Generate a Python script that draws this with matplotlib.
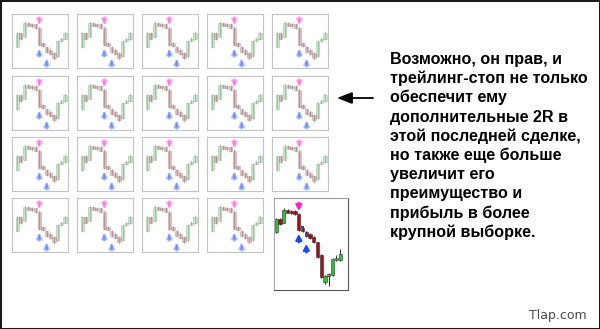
import matplotlib
matplotlib.use("Agg")
import matplotlib.pyplot as plt
from matplotlib.patches import Rectangle

W, H = 600, 329

# last trade (highlighted tile), 18 candles
big_open  = [68, 81, 77, 90, 89, 89, 86, 72, 68, 66, 63, 58, 45, 18, 24, 25, 40, 40]
big_high  = [82, 82, 92, 91, 90, 90, 87, 73, 69, 67, 64, 58, 46, 25, 27, 42, 45, 51]
big_low   = [67, 75, 77, 87, 86, 85, 69, 68, 63, 61, 57, 42, 22, 16, 14, 24, 39, 39]
big_close = [81, 76, 90, 87, 87, 86, 70, 69, 64, 62, 58, 43, 23, 24, 26, 41, 42, 46]
big_sell = [(6, 89)]                 # magenta arrow (index, price)
big_buy = [(6, 66), (8, 56)]         # blue arrows
big_mark = [(7, 73), (8, 65)]        # small blue marks

# faded sample trades, 14 candles
fd_open  = [68, 81, 77, 90, 89, 89, 86, 72, 68, 66, 63, 60, 74, 76]
fd_high  = [82, 82, 92, 91, 90, 90, 87, 73, 69, 67, 64, 75, 77, 83]
fd_low   = [67, 75, 77, 87, 86, 85, 69, 68, 63, 61, 57, 59, 73, 75]
fd_close = [81, 76, 90, 87, 87, 86, 70, 69, 64, 62, 58, 74, 76, 81]
fd_sell = [(6, 88)]
fd_buy = [(6, 67), (8, 58)]

text_lines = [
    "Возможно, он прав, и",
    "трейлинг-стоп не только",
    "обеспечит ему",
    "дополнительные 2R в",
    "этой последней сделке,",
    "но также еще больше",
    "увеличит его",
    "преимущество и",
    "прибыль в более",
    "крупной выборке.",
]

GREEN = "#2fbf3a"
RED = "#a50f14"
PINK = "#ff1fd0"
BLUE = "#1546ff"


def px_axes(fig, x, y, w, h):
    return fig.add_axes([x / W, 1 - (y + h) / H, w / W, h / H])


def draw_tile(ax, o, hi, lo, c, sell, buy, marks, alpha):
    for i in range(len(o)):
        col = GREEN if c[i] >= o[i] else RED
        ax.vlines(i, lo[i], hi[i], color="#333333", lw=0.8, alpha=alpha, zorder=1)
        b = min(o[i], c[i])
        hgt = max(abs(c[i] - o[i]), 1.5)
        ax.bar(i, hgt, bottom=b, width=0.85, color=col, edgecolor="#333333",
               lw=0.4, alpha=alpha, zorder=2)
    style = "-|>,head_length=0.32,head_width=0.17"
    for i, p in sell:
        ax.annotate("", xy=(i, p), xytext=(0, 6), textcoords="offset points",
                    arrowprops=dict(arrowstyle=style, color=PINK, lw=1.7,
                                    alpha=alpha, shrinkA=0, shrinkB=0))
    for i, p in buy:
        ax.annotate("", xy=(i, p), xytext=(0, -6), textcoords="offset points",
                    arrowprops=dict(arrowstyle=style, color=BLUE, lw=1.7,
                                    alpha=alpha, shrinkA=0, shrinkB=0))
    for i, p in marks:
        ax.bar(i, 2.5, bottom=p - 1.25, width=0.7, color=BLUE, alpha=alpha, zorder=3)
    ax.set_xticks([])
    ax.set_yticks([])


fig = plt.figure(figsize=(W / 100, H / 100), dpi=100)
fig.patch.set_facecolor("white")

bg = fig.add_axes([0, 0, 1, 1])
bg.set_xlim(0, W)
bg.set_ylim(H, 0)
bg.axis("off")

# grid of faded tiles
col_x = [12, 77, 142, 207, 272]
row_y = [14, 76, 137, 198]
for r, ty in enumerate(row_y):
    for k, tx in enumerate(col_x):
        if r == 3 and k == 4:
            continue
        ax = px_axes(fig, tx, ty, 56, 54)
        draw_tile(ax, fd_open, fd_high, fd_low, fd_close, fd_sell, fd_buy, [], 0.28)
        ax.set_xlim(-1.4, 13.8)
        ax.set_ylim(49.3, 98.3)
        for s in ax.spines.values():
            s.set_linestyle((0, (1, 1)))
            s.set_color("#c4c4c4")
            s.set_linewidth(0.8)

# highlighted last tile
ax = px_axes(fig, 274, 198, 74, 92)
draw_tile(ax, big_open, big_high, big_low, big_close, big_sell, big_buy, big_mark, 1.0)
ax.set_xlim(-0.6, 19.1)
ax.set_ylim(10, 102)
for name, s in ax.spines.items():
    s.set_linewidth(0.8)
    if name == "top":
        s.set_color("#999999")
    else:
        s.set_linestyle((0, (1, 1)))
        s.set_color("#555555" if name != "left" else "#aaaaaa")

# pointer arrow
bg.annotate("", xy=(337, 98), xytext=(373, 98),
            arrowprops=dict(arrowstyle="-|>,head_length=0.9,head_width=0.35",
                            color="black", lw=1.3, shrinkA=0, shrinkB=0))

for i, line in enumerate(text_lines):
    bg.text(390, 64 + 19.2 * i, line, fontsize=11.6, fontweight="bold",
            family=["Liberation Sans", "DejaVu Sans"], va="baseline", ha="left",
            color="black")

bg.text(529, 319, "Tlap.com", fontsize=9, family="DejaVu Sans", color="#4a4a4a",
        va="baseline", ha="left")

fig.patches.append(Rectangle((0, 0), 1, 1, transform=fig.transFigure, fill=False,
                             edgecolor="#1a1a1a", lw=2.2))

fig.savefig("out.png", dpi=100)
